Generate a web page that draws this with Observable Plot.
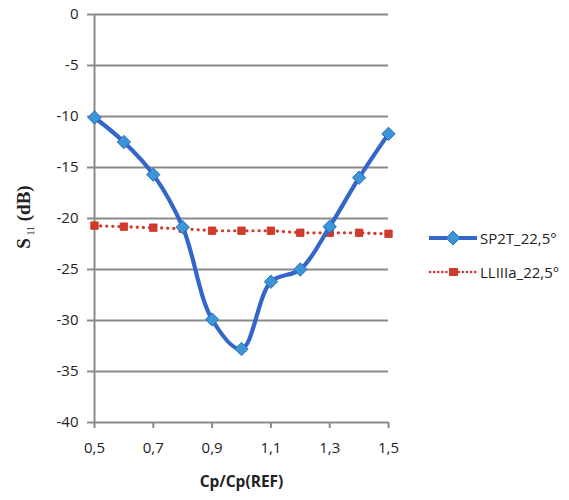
<!DOCTYPE html>
<html>
<head>
<meta charset="utf-8">
<script src="https://cdn.jsdelivr.net/npm/d3@7"></script>
<script src="https://cdn.jsdelivr.net/npm/@observablehq/plot@0.6"></script>
<style>
  body { margin: 0; background: #fff; }
  #wrap { position: relative; width: 569px; height: 500px; font-family: "Open Sans", sans-serif; }
  .leg { position: absolute; left: 428px; font-size: 15px; color: #222; display: flex; align-items: center; gap: 2px; }
</style>
</head>
<body>
<div id="wrap"></div>
<script>
const xValues = [0.5, 0.6, 0.7, 0.8, 0.9, 1.0, 1.1, 1.2, 1.3, 1.4, 1.5];
const sp2t = [-10.1, -12.5, -15.7, -20.85, -29.9, -32.8, -26.2, -25.0, -20.8, -16.0, -11.7];
const llIIIa = [-20.7, -20.8, -20.9, -21.0, -21.2, -21.2, -21.2, -21.4, -21.4, -21.4, -21.5];
const xTicks = [0.5, 0.7, 0.9, 1.1, 1.3, 1.5];
const yTicks = [0, -5, -10, -15, -20, -25, -30, -35, -40];
const seriesNames = ["SP2T_22,5°", "LLIIIa_22,5°"];

const blueData = xValues.map((x, i) => ({x, y: sp2t[i]}));
const redData = xValues.map((x, i) => ({x, y: llIIIa[i]}));
const fmt = d => String(d).replace(".", ",");

const chart = Plot.plot({
  width: 569,
  height: 500,
  marginLeft: 94,
  marginRight: 181,
  marginTop: 14,
  marginBottom: 78,
  style: {fontFamily: "Open Sans, sans-serif", fontSize: "15px", color: "#222", background: "#fff"},
  x: {domain: [0.5, 1.5], ticks: xTicks, tickFormat: fmt, label: null},
  y: {domain: [-40, 0], ticks: yTicks, tickFormat: fmt, label: null},
  marks: [
    Plot.gridY(yTicks.filter(t => t !== -40), {stroke: "#8a8a8a", strokeOpacity: 1, strokeWidth: 2}),
    Plot.ruleX([0.5], {stroke: "#8a8a8a", strokeWidth: 2}),
    Plot.ruleY([-40], {stroke: "#8a8a8a", strokeWidth: 2}),
    Plot.axisY({ticks: yTicks, tickFormat: fmt, tickSize: 7, tickPadding: 9, stroke: "#8a8a8a", strokeWidth: 2, fontSize: 15}),
    Plot.axisX({ticks: xTicks, tickFormat: fmt, tickSize: 6, tickPadding: 14, stroke: "#8a8a8a", strokeWidth: 2, fontSize: 15}),
    Plot.line(redData, {x: "x", y: "y", stroke: "#d23a2c", strokeWidth: 3.2, strokeDasharray: "0.1,6", strokeLinecap: "round"}),
    Plot.dot(redData, {x: "x", y: "y", symbol: "square", r: 4.2, fill: "#d23a2c", stroke: "#c83024", strokeWidth: 0.8}),
    Plot.line(blueData, {x: "x", y: "y", stroke: "#3366c8", strokeWidth: 4.2, curve: "catmull-rom"}),
    Plot.dot(blueData, {x: "x", y: "y", symbol: "diamond2", r: 6, fill: "#3c96d6", stroke: "#2a6cc0", strokeWidth: 1}),
    Plot.text(["Cp/Cp(REF)"], {frameAnchor: "bottom", dy: 64, fontWeight: "bold", fontSize: 15.5, fill: "#222"})
  ]
});

// Y axis title with subscript
const svg = d3.select(chart);
const t = svg.append("text")
  .attr("transform", "translate(30,217) rotate(-90)")
  .attr("text-anchor", "middle")
  .attr("font-family", "Liberation Serif, Times New Roman, serif")
  .attr("font-size", 19)
  .attr("font-weight", "bold")
  .attr("fill", "#222");
t.append("tspan").text("S");
t.append("tspan").attr("font-size", 10).attr("font-weight", "normal").attr("dy", 4).text(" 11");
t.append("tspan").attr("dy", -4).text(" (dB)");

const wrap = document.getElementById("wrap");
wrap.appendChild(chart);

// Legend
const legendDefs = [
  {name: seriesNames[0], top: 228, svg: '<svg width="50" height="20"><line x1="1" y1="10" x2="49" y2="10" stroke="#3366c8" stroke-width="4"/><path d="M25 3 L32 10 L25 17 L18 10 Z" fill="#3c96d6" stroke="#2a6cc0"/></svg>'},
  {name: seriesNames[1], top: 262, svg: '<svg width="50" height="20"><line x1="2" y1="10" x2="48" y2="10" stroke="#d23a2c" stroke-width="2.6" stroke-dasharray="0.1,4" stroke-linecap="round"/><rect x="21" y="6" width="9" height="8" fill="#d23a2c"/></svg>'}
];
legendDefs.forEach(d => {
  const el = document.createElement("div");
  el.className = "leg";
  el.style.top = d.top + "px";
  el.innerHTML = d.svg + "<span>" + d.name + "</span>";
  wrap.appendChild(el);
});
</script>
</body>
</html>
